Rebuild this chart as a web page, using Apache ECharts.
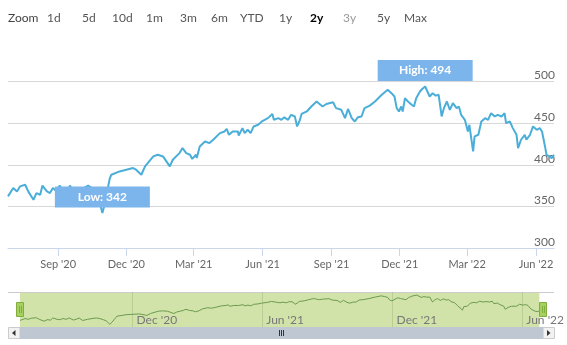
<!DOCTYPE html>
<html>
<head>
<meta charset="utf-8">
<script src="https://cdn.jsdelivr.net/npm/echarts@6/dist/echarts.min.js"></script>
<style>
  html, body { margin: 0; padding: 0; background: #fff; }
  #chart { width: 567px; height: 345px; }
</style>
</head>
<body>
<div id="chart"></div>
<script>
// Closing prices, two-year range
const dates = ['2020-06-26','2020-07-03','2020-07-08','2020-07-12','2020-07-19','2020-07-23','2020-07-30','2020-08-03','2020-08-08','2020-08-11',
  '2020-08-17','2020-08-21','2020-08-25','2020-08-30','2020-09-03','2020-09-09','2020-09-14','2020-09-17','2020-09-22','2020-09-29',
  '2020-10-05','2020-10-11','2020-10-16','2020-10-21','2020-10-25','2020-10-30','2020-11-02','2020-11-05','2020-11-09','2020-11-11',
  '2020-11-22','2020-12-10','2020-12-14','2020-12-21','2020-12-26','2021-01-06','2021-01-12','2021-01-19','2021-01-28','2021-02-01',
  '2021-02-10','2021-02-14','2021-02-19','2021-02-24','2021-02-27','2021-03-04','2021-03-05','2021-03-09','2021-03-16','2021-03-22',
  '2021-03-27','2021-04-05','2021-04-11','2021-04-14','2021-04-17','2021-04-22','2021-04-29','2021-04-30','2021-05-05','2021-05-08',
  '2021-05-12','2021-05-16','2021-05-20','2021-05-26','2021-05-31','2021-06-08','2021-06-14','2021-06-16','2021-06-22','2021-06-26',
  '2021-06-30','2021-07-05','2021-07-09','2021-07-14','2021-07-17','2021-07-20','2021-07-23','2021-07-30','2021-08-05','2021-08-12',
  '2021-08-16','2021-08-20','2021-08-25','2021-09-03','2021-09-07','2021-09-14','2021-09-19','2021-09-23','2021-09-28','2021-10-02',
  '2021-10-06','2021-10-11','2021-10-15','2021-10-22','2021-10-29','2021-11-07','2021-11-15','2021-11-20','2021-11-24','2021-11-27',
  '2021-11-30','2021-12-03','2021-12-05','2021-12-08','2021-12-12','2021-12-17','2021-12-20','2021-12-23','2021-12-28','2021-12-31',
  '2022-01-04','2022-01-10','2022-01-14','2022-01-18','2022-01-22','2022-01-26','2022-01-29','2022-02-02','2022-02-06','2022-02-10',
  '2022-02-15','2022-02-18','2022-02-21','2022-02-26','2022-02-28','2022-03-02','2022-03-04','2022-03-09','2022-03-11','2022-03-16',
  '2022-03-20','2022-03-25','2022-03-29','2022-04-02','2022-04-07','2022-04-11','2022-04-16','2022-04-20','2022-04-22','2022-04-27',
  '2022-05-01','2022-05-06','2022-05-08','2022-05-12','2022-05-17','2022-05-19','2022-05-24','2022-05-28','2022-06-02','2022-06-06',
  '2022-06-09','2022-06-13','2022-06-15','2022-06-19','2022-06-22','2022-06-25'];

const prices = [362,372,368,374,376,368,358,366,364,375,
  368,366,372,368,375,364,370,375,362,368,
  372,375,372,366,360,342,352,366,384,388,
  392,396,394,388,398,410,412,410,398,406,
  414,420,414,412,407,412,408,422,428,426,
  430,438,440,443,436,440,440,435,444,438,
  442,438,446,448,452,456,461,454,456,454,
  457,454,460,458,446,452,461,464,470,476,
  473,470,473,475,468,466,456,467,456,452,
  457,458,468,471,476,484,490,486,482,468,
  464,470,464,480,476,472,470,480,488,491,
  494,482,486,483,484,458,468,476,466,474,
  468,470,460,454,455,440,448,416,434,436,
  452,456,454,462,458,460,458,462,450,452,
  444,436,420,430,436,430,436,446,442,444,
  440,422,412,410,408,412];

const rangeStart = '2020-06-26';
const rangeEnd = '2022-06-25';
const mainTicks = ['2020-09-01','2020-12-01','2021-03-01','2021-06-01','2021-09-01','2021-12-01','2022-03-01','2022-06-01'];
const navTicks = ['2020-12-01','2021-06-01','2021-12-01','2022-06-01'];
const yTicks = [300, 350, 400, 450, 500];
const zoomButtons = ['1d','5d','10d','1m','3m','6m','YTD','1y','2y','3y','5y','Max'];
const selectedButton = '2y';

const FONT = 'Lato, "Open Sans", sans-serif';
const MONTHS = ['Jan','Feb','Mar','Apr','May','Jun','Jul','Aug','Sep','Oct','Nov','Dec'];
// Dates are handled as UTC timestamps on a numeric axis
const toTime = s => Date.parse(s + 'T00:00:00Z');
const fmtMonth = v => { const d = new Date(v); return MONTHS[d.getUTCMonth()] + " '" + String(d.getUTCFullYear()).slice(2); };

const seriesData = dates.map((d, i) => [toTime(d), prices[i]]);

// Range selector buttons across the top
const buttonX = [47, 82, 112, 146, 180, 211, 240, 279, 310, 343, 377, 404];
const graphics = [{
  type: 'text', x: 8, y: 18,
  style: { text: 'Zoom', fill: '#444', font: '12px ' + FONT, verticalAlign: 'middle' }
}];
zoomButtons.forEach((b, i) => {
  const sel = b === selectedButton;
  graphics.push({
    type: 'text', x: buttonX[i], y: 18,
    style: {
      text: b,
      fill: sel ? '#000' : (b === '3y' ? '#9a9a9a' : '#555'),
      font: (sel ? 'bold ' : '') + '12px ' + FONT,
      verticalAlign: 'middle'
    }
  });
});

// Navigator frame, handles and scrollbar
const navL = 20, navR = 543, navTop = 292, navBot = 327;
graphics.push(
  { type: 'line', shape: { x1: 8, y1: navTop + 0.5, x2: 554, y2: navTop + 0.5 }, style: { stroke: '#cccccc', lineWidth: 1 } },
  { type: 'rect', shape: { x: 8.5, y: navBot + 0.5, width: 546, height: 11 }, style: { fill: '#f2f2f2', stroke: '#cccccc', lineWidth: 1 } },
  { type: 'rect', shape: { x: navL, y: navBot + 0.5, width: navR - navL, height: 11 }, style: { fill: '#bfc8d2', stroke: '#bfc8d2' } },
  { type: 'polygon', shape: { points: [[15.5, 330], [12, 333], [15.5, 336]] }, style: { fill: '#333' } },
  { type: 'polygon', shape: { points: [[547, 330], [550.5, 333], [547, 336]] }, style: { fill: '#333' } },
  { type: 'line', shape: { x1: 279.5, y1: 330, x2: 279.5, y2: 336 }, style: { stroke: '#333', lineWidth: 1 } },
  { type: 'line', shape: { x1: 281.5, y1: 330, x2: 281.5, y2: 336 }, style: { stroke: '#333', lineWidth: 1 } },
  { type: 'line', shape: { x1: 283.5, y1: 330, x2: 283.5, y2: 336 }, style: { stroke: '#333', lineWidth: 1 } }
);
[navL, navR].forEach(hx => {
  graphics.push(
    { type: 'rect', shape: { x: hx - 3.5, y: 302.5, width: 7, height: 14 }, style: { fill: '#a6d160', stroke: '#7fae3e', lineWidth: 1 }, z: 10 },
    { type: 'line', shape: { x1: hx - 0.5, y1: 306, x2: hx - 0.5, y2: 313 }, style: { stroke: '#7fae3e', lineWidth: 1 }, z: 11 },
    { type: 'line', shape: { x1: hx + 1.5, y1: 306, x2: hx + 1.5, y2: 313 }, style: { stroke: '#7fae3e', lineWidth: 1 }, z: 11 }
  );
});

const chart = echarts.init(document.getElementById('chart'), null, { renderer: 'canvas' });
chart.setOption({
  animation: false,
  backgroundColor: '#fff',
  textStyle: { fontFamily: FONT },
  grid: [
    { left: 8, right: 13, top: 81.5, height: 166.5 },
    { left: navL, right: 567 - navR, top: navTop, height: navBot - navTop, show: true, backgroundColor: '#d2e3aa', borderWidth: 0 }
  ],
  xAxis: [{
    type: 'value', gridIndex: 0,
    min: toTime(rangeStart), max: toTime(rangeEnd),
    axisLine: { lineStyle: { color: '#ccd6eb' } },
    axisTick: { show: true, length: 8, lineStyle: { color: '#ccd6eb' }, customValues: mainTicks.map(toTime) },
    axisLabel: { customValues: mainTicks.map(toTime), formatter: fmtMonth, color: '#666', fontSize: 11, margin: 11, fontFamily: FONT },
    splitLine: { show: false }
  }, {
    type: 'value', gridIndex: 1,
    min: toTime(rangeStart), max: toTime(rangeEnd),
    axisLine: { show: false },
    axisTick: { show: false },
    axisLabel: { inside: true, customValues: navTicks.map(toTime), formatter: fmtMonth, align: 'left', verticalAlign: 'bottom',
      padding: [0, 0, 0, 4], margin: 1, color: '#777', fontSize: 12, fontFamily: FONT },
    splitLine: { show: false }
  }],
  yAxis: [{
    type: 'value', gridIndex: 0, position: 'right',
    min: yTicks[0], max: yTicks[yTicks.length - 1], interval: 50,
    axisLine: { show: false }, axisTick: { show: false },
    splitLine: { lineStyle: { color: '#d8d8d8' } },
    axisLabel: { inside: true, align: 'right', verticalAlign: 'bottom', margin: -1, color: '#666', fontSize: 12, fontFamily: FONT }
  }, {
    type: 'value', gridIndex: 1, min: 328, max: 510, show: false
  }],
  series: [{
    type: 'line', xAxisIndex: 0, yAxisIndex: 0,
    data: seriesData,
    showSymbol: false, symbol: 'none',
    lineStyle: { color: '#4aaed9', width: 2 },
    markPoint: {
      symbol: 'rect', symbolSize: [95, 21], symbolOffset: [0, -16],
      itemStyle: { color: '#7cb5ec' },
      label: { show: true, position: 'inside', color: '#fff', fontWeight: 'bold', fontSize: 12, fontFamily: FONT,
        formatter: p => (p.name === 'high' ? 'High: ' : 'Low: ') + p.value },
      data: [{ type: 'max', name: 'high' }, { type: 'min', name: 'low' }]
    },
    z: 3
  }, {
    type: 'line', xAxisIndex: 1, yAxisIndex: 1,
    data: seriesData,
    showSymbol: false, symbol: 'none',
    lineStyle: { color: '#6c9b4e', width: 1 },
    markLine: {
      silent: true, symbol: 'none', label: { show: false },
      lineStyle: { color: 'rgba(120,140,90,0.25)', width: 1, type: 'solid' },
      data: navTicks.map(t => ({ xAxis: toTime(t) }))
    }
  }],
  graphic: graphics
});
</script>
</body>
</html>
